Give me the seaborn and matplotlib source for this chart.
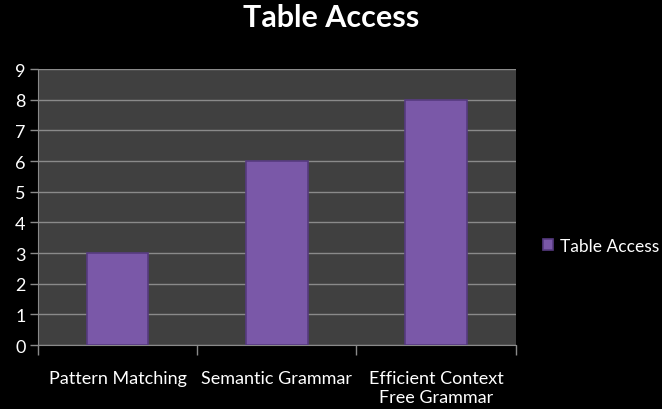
import matplotlib
matplotlib.use("Agg")
import matplotlib.pyplot as plt
import seaborn as sns
import pandas as pd
from matplotlib.ticker import FixedLocator

categories = ["Pattern Matching", "Semantic Grammar", "Efficient Context\nFree Grammar"]
values = [3, 6, 8]
series_name = "Table Access"
yticks = list(range(0, 10))

df = pd.DataFrame({"category": categories, "value": values, "series": series_name})

sns.set_style("dark")
plt.rcParams['font.family'] = ['Lato', 'DejaVu Sans']

fig = plt.figure(figsize=(6.62, 4.10), dpi=100, facecolor="black")
ax = fig.add_axes([0.0574, 0.156, 0.7216, 0.673])
ax.set_facecolor("#404040")

sns.barplot(data=df, x="category", y="value", hue="series", palette=["#7a58a8"],
            saturation=1, width=0.385, ax=ax, edgecolor="#563a80", linewidth=1.2, zorder=3)

ax.set_ylim(0, 9)
ax.set_xlim(-0.5, 2.5)
ax.set_yticks(yticks)
ax.set_yticklabels([str(v) for v in yticks], color="white", fontsize=13)
ax.yaxis.grid(True, color="#8a8a8a", linewidth=1.0, zorder=0)
ax.xaxis.grid(False)
ax.tick_params(axis="y", length=6, color="#8a8a8a", width=1, pad=3, left=True, direction="out")
for lbl in ax.get_yticklabels():
    lbl.set_horizontalalignment("right")

ax.set_xticks(range(len(categories)))
ax.set_xticklabels(categories, color="white", fontsize=13, linespacing=1.25)
ax.tick_params(axis="x", which="major", length=0, pad=18)
ax.xaxis.set_minor_locator(FixedLocator([-0.5, 0.5, 1.5, 2.5]))
ax.tick_params(axis="x", which="minor", length=7, color="#8a8a8a", width=1, bottom=True, direction="out")

for side in ["top", "right"]:
    ax.spines[side].set_visible(False)
ax.spines["left"].set_visible(True)
ax.spines["left"].set_color("#8a8a8a")
ax.spines["bottom"].set_visible(True)
ax.spines["bottom"].set_color("#8a8a8a")

ax.set_xlabel("")
ax.set_ylabel("")

fig.suptitle("Table Access", color="white", fontsize=22, fontweight="bold", x=0.5, y=0.99)

leg = ax.legend(loc="center left", bbox_to_anchor=(1.025, 0.36), frameon=False,
                handlelength=0.55, handleheight=0.55, handletextpad=0.4, fontsize=12.5)
for t in leg.get_texts():
    t.set_color("white")

fig.savefig("out.png", dpi=100, facecolor="black")
